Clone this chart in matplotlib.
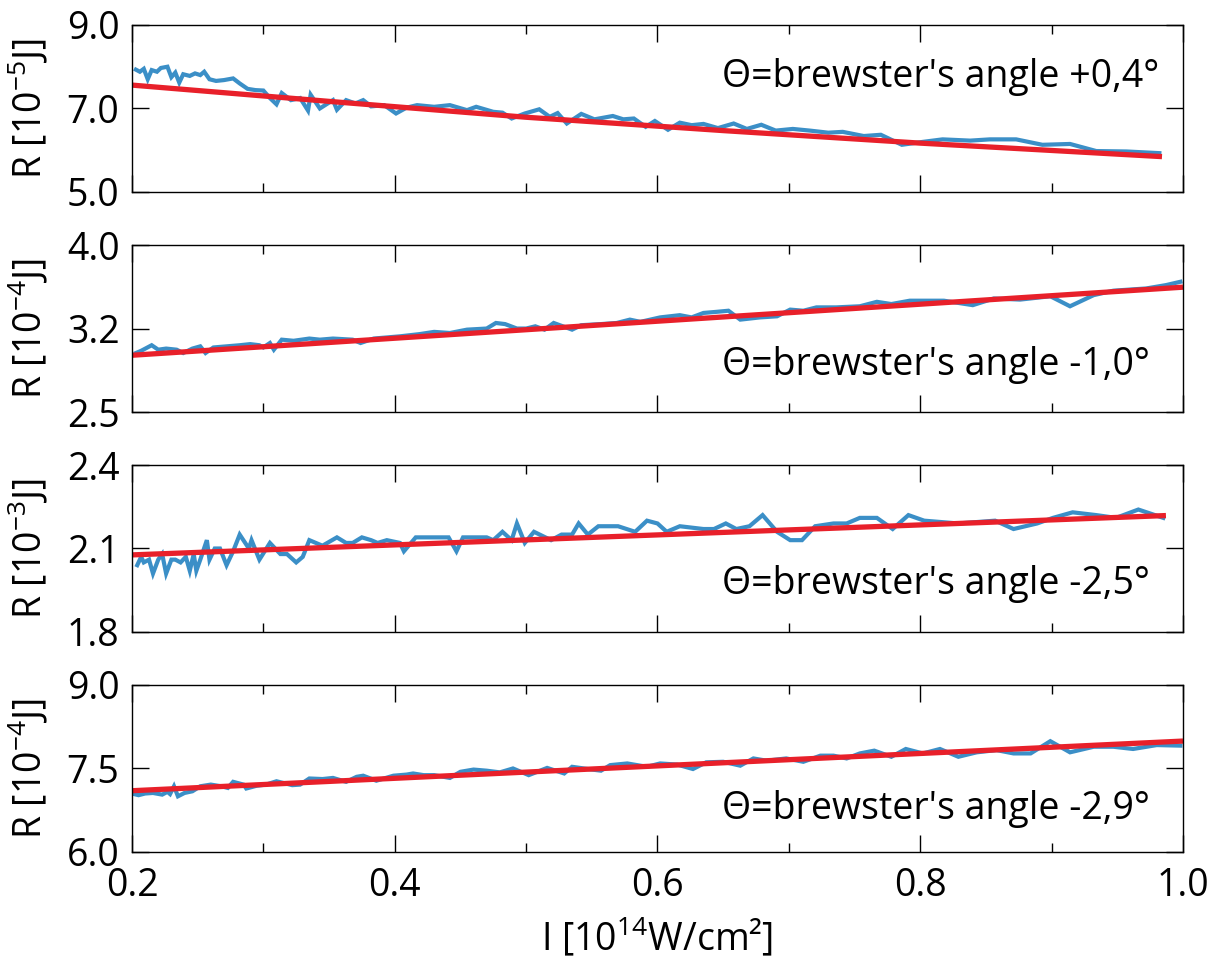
import numpy as np
import matplotlib
matplotlib.use("Agg")
import matplotlib.pyplot as plt
from matplotlib.ticker import MultipleLocator

plt.rcParams['font.family'] = ['Open Sans', 'DejaVu Sans']
plt.rcParams['mathtext.fontset'] = 'custom'
plt.rcParams['mathtext.rm'] = 'Open Sans'
plt.rcParams['mathtext.it'] = 'Open Sans'

# ---- measured reflectivity, panel 1 (x 1e-5 J)
x1 = [0.203, 0.206, 0.209, 0.212, 0.215, 0.219, 0.222, 0.227, 0.230, 0.233,
      0.236, 0.239, 0.244, 0.248, 0.252, 0.255, 0.259, 0.264, 0.270, 0.277,
      0.282, 0.288, 0.294, 0.300, 0.305, 0.310, 0.314, 0.321, 0.328, 0.334,
      0.336, 0.343, 0.353, 0.356, 0.363, 0.370, 0.376, 0.382, 0.392, 0.401,
      0.409, 0.417, 0.430, 0.442, 0.455, 0.462, 0.475, 0.482, 0.489, 0.499,
      0.510, 0.518, 0.524, 0.531, 0.542, 0.552, 0.566, 0.574, 0.582, 0.591,
      0.598, 0.608, 0.617, 0.626, 0.635, 0.646, 0.658, 0.668, 0.679, 0.690,
      0.703, 0.716, 0.730, 0.741, 0.757, 0.770, 0.786, 0.802, 0.817, 0.838,
      0.853, 0.873, 0.893, 0.914, 0.934, 0.957, 0.982]
r1 = [7.93, 7.88, 7.95, 7.70, 7.92, 7.88, 7.97, 8.00, 7.75, 7.86,
      7.62, 7.82, 7.78, 7.84, 7.80, 7.88, 7.70, 7.66, 7.68, 7.72,
      7.60, 7.47, 7.44, 7.43, 7.25, 7.10, 7.37, 7.20, 7.25, 6.95,
      7.33, 7.00, 7.20, 6.97, 7.20, 7.12, 7.20, 7.05, 7.08, 6.88,
      7.02, 7.08, 7.04, 7.08, 6.96, 7.04, 6.92, 6.90, 6.76, 6.88,
      6.98, 6.80, 6.89, 6.64, 6.87, 6.74, 6.82, 6.74, 6.76, 6.56,
      6.70, 6.49, 6.66, 6.60, 6.63, 6.53, 6.64, 6.51, 6.61, 6.47,
      6.51, 6.47, 6.42, 6.44, 6.34, 6.37, 6.13, 6.20, 6.26, 6.23,
      6.26, 6.26, 6.13, 6.15, 5.98, 5.97, 5.93]
fit1_x = [0.2, 0.35, 0.5, 0.65, 0.8, 0.982]
fit1_y = [7.56, 7.17, 6.79, 6.47, 6.17, 5.85]

# ---- panel 2 (x 1e-4 J)
x2 = [0.203, 0.207, 0.215, 0.220, 0.226, 0.234, 0.239, 0.246, 0.252, 0.256,
      0.262, 0.272, 0.282, 0.290, 0.297, 0.300, 0.305, 0.308, 0.314, 0.323,
      0.335, 0.343, 0.353, 0.368, 0.374, 0.384, 0.394, 0.404, 0.419, 0.430,
      0.442, 0.455, 0.470, 0.477, 0.484, 0.493, 0.500, 0.507, 0.514, 0.521,
      0.535, 0.542, 0.557, 0.569, 0.579, 0.587, 0.602, 0.617, 0.626, 0.635,
      0.645, 0.654, 0.663, 0.678, 0.691, 0.701, 0.711, 0.721, 0.736, 0.754,
      0.767, 0.778, 0.792, 0.805, 0.818, 0.840, 0.856, 0.876, 0.899, 0.914,
      0.932, 0.947, 0.972, 0.987, 0.998]
r2 = [3.03, 3.05, 3.10, 3.06, 3.07, 3.06, 3.03, 3.07, 3.09, 3.03,
      3.08, 3.09, 3.10, 3.11, 3.10, 3.08, 3.12, 3.06, 3.15, 3.14,
      3.16, 3.15, 3.16, 3.15, 3.12, 3.16, 3.17, 3.18, 3.20, 3.22,
      3.21, 3.24, 3.25, 3.30, 3.29, 3.25, 3.25, 3.27, 3.24, 3.30,
      3.24, 3.28, 3.29, 3.30, 3.33, 3.31, 3.35, 3.37, 3.35, 3.39,
      3.40, 3.41, 3.33, 3.35, 3.36, 3.42, 3.41, 3.44, 3.44, 3.45,
      3.49, 3.47, 3.50, 3.50, 3.50, 3.46, 3.52, 3.51, 3.54, 3.45,
      3.55, 3.59, 3.61, 3.64, 3.67]
fit2_x = [0.2, 0.998]
fit2_y = [3.01, 3.62]

# ---- panel 3 (x 1e-3 J)
x3 = [0.204, 0.207, 0.209, 0.213, 0.216, 0.220, 0.223, 0.226, 0.230, 0.233,
      0.237, 0.241, 0.244, 0.247, 0.249, 0.252, 0.257, 0.259, 0.263, 0.267,
      0.272, 0.277, 0.282, 0.289, 0.291, 0.297, 0.305, 0.313, 0.318, 0.325,
      0.330, 0.335, 0.345, 0.356, 0.363, 0.368, 0.375, 0.382, 0.387, 0.394,
      0.404, 0.407, 0.416, 0.428, 0.441, 0.447, 0.452, 0.465, 0.470, 0.475,
      0.482, 0.489, 0.493, 0.499, 0.506, 0.519, 0.527, 0.535, 0.540, 0.547,
      0.555, 0.570, 0.583, 0.592, 0.600, 0.607, 0.617, 0.635, 0.643, 0.652,
      0.660, 0.670, 0.680, 0.691, 0.701, 0.710, 0.720, 0.734, 0.744, 0.754,
      0.767, 0.779, 0.791, 0.803, 0.829, 0.857, 0.871, 0.889, 0.901, 0.916,
      0.934, 0.949, 0.966, 0.985]
r3 = [2.04, 2.07, 2.05, 2.06, 2.01, 2.06, 2.08, 2.01, 2.06, 2.06,
      2.05, 2.07, 2.02, 2.08, 2.02, 2.06, 2.13, 2.06, 2.10, 2.10,
      2.04, 2.09, 2.15, 2.10, 2.13, 2.06, 2.12, 2.08, 2.08, 2.05,
      2.07, 2.13, 2.11, 2.14, 2.12, 2.12, 2.14, 2.13, 2.12, 2.13,
      2.12, 2.09, 2.14, 2.14, 2.14, 2.09, 2.14, 2.14, 2.14, 2.13,
      2.16, 2.13, 2.19, 2.12, 2.16, 2.13, 2.15, 2.15, 2.19, 2.15,
      2.18, 2.18, 2.16, 2.20, 2.19, 2.16, 2.18, 2.17, 2.17, 2.19,
      2.17, 2.18, 2.22, 2.16, 2.13, 2.13, 2.18, 2.19, 2.19, 2.21,
      2.21, 2.17, 2.22, 2.20, 2.19, 2.20, 2.17, 2.19, 2.21, 2.23,
      2.22, 2.21, 2.24, 2.21]
fit3_x = [0.2, 0.985]
fit3_y = [2.077, 2.218]

# ---- panel 4 (x 1e-4 J)
x4 = [0.200, 0.205, 0.210, 0.216, 0.223, 0.227, 0.229, 0.232, 0.235, 0.240,
      0.246, 0.252, 0.260, 0.268, 0.273, 0.277, 0.285, 0.287, 0.295, 0.302,
      0.310, 0.322, 0.328, 0.335, 0.345, 0.353, 0.363, 0.371, 0.376, 0.386,
      0.399, 0.409, 0.414, 0.422, 0.430, 0.442, 0.450, 0.460, 0.470, 0.480,
      0.490, 0.502, 0.516, 0.529, 0.535, 0.547, 0.557, 0.564, 0.577, 0.592,
      0.602, 0.615, 0.627, 0.637, 0.650, 0.663, 0.673, 0.683, 0.698, 0.711,
      0.724, 0.734, 0.744, 0.754, 0.765, 0.778, 0.789, 0.802, 0.815, 0.829,
      0.843, 0.858, 0.871, 0.884, 0.899, 0.914, 0.932, 0.947, 0.962, 0.980,
      0.998]
r4 = [7.05, 7.02, 7.05, 7.06, 7.03, 7.08, 7.04, 7.18, 7.00, 7.06,
      7.09, 7.18, 7.21, 7.18, 7.15, 7.26, 7.21, 7.14, 7.19, 7.21,
      7.27, 7.20, 7.21, 7.32, 7.31, 7.33, 7.26, 7.35, 7.37, 7.28,
      7.37, 7.39, 7.41, 7.38, 7.38, 7.33, 7.44, 7.48, 7.46, 7.43,
      7.50, 7.38, 7.51, 7.41, 7.53, 7.49, 7.46, 7.56, 7.59, 7.53,
      7.59, 7.57, 7.49, 7.61, 7.62, 7.55, 7.68, 7.64, 7.68, 7.62,
      7.73, 7.73, 7.68, 7.77, 7.82, 7.71, 7.85, 7.77, 7.85, 7.71,
      7.79, 7.83, 7.77, 7.77, 7.99, 7.79, 7.89, 7.89, 7.85, 7.92,
      7.91]
fit4_x = [0.2, 0.998]
fit4_y = [7.10, 7.99]

ylabels = ["R [10$^{-5}$J]", "R [10$^{-4}$J]", "R [10$^{-3}$J]", "R [10$^{-4}$J]"]
angles = ["Θ=brewster's angle +0,4°", "Θ=brewster's angle -1,0°",
          "Θ=brewster's angle -2,5°", "Θ=brewster's angle -2,9°"]
ylims = [(5.0, 9.0), (2.5, 4.0), (1.8, 2.4), (6.0, 9.0)]
yticks = [[5.0, 7.0, 9.0], [2.5, 3.25, 4.0], [1.8, 2.1, 2.4], [6.0, 7.5, 9.0]]
yticklabels = [["5.0", "7.0", "9.0"], ["2.5", "3.2", "4.0"],
               ["1.8", "2.1", "2.4"], ["6.0", "7.5", "9.0"]]

data = [(x1, r1, fit1_x, fit1_y), (x2, r2, fit2_x, fit2_y),
        (x3, r3, fit3_x, fit3_y), (x4, r4, fit4_x, fit4_y)]
text_y = [0.63, 0.22, 0.23, 0.20]

BLUE = '#3b8fc7'
RED = '#e8202a'
FS = 27

fig = plt.figure(figsize=(12.23, 9.72), dpi=100)
bottoms = [0.8025, 0.5761, 0.3498, 0.1235]
for i in range(4):
    ax = fig.add_axes([0.1079, bottoms[i], 0.8594, 0.1718])
    xs, ys, fx, fy = data[i]
    ax.plot(xs, ys, color=BLUE, lw=3.0, solid_joinstyle='miter')
    ax.plot(fx, fy, color=RED, lw=3.8)
    ax.set_xlim(0.2, 1.0)
    ax.set_ylim(*ylims[i])
    ax.set_yticks(yticks[i])
    ax.set_yticklabels(yticklabels[i])
    ax.xaxis.set_major_locator(MultipleLocator(0.2))
    ax.xaxis.set_minor_locator(MultipleLocator(0.1))
    ax.tick_params(which='both', direction='in', top=True, right=True,
                   width=1.0, labelsize=FS, pad=9)
    ax.tick_params(which='major', length=12)
    ax.tick_params(which='minor', length=6.5)
    for s in ax.spines.values():
        s.set_linewidth(1.0)
    if i < 3:
        ax.set_xticklabels([])
    else:
        ax.set_xticks([0.2, 0.4, 0.6, 0.8, 1.0])
        ax.set_xticklabels(["0.2", "0.4", "0.6", "0.8", "1.0"])
        ax.tick_params(axis='x', pad=11)
        ax.set_xlabel("I [10$^{14}$W/cm²]", fontsize=FS, labelpad=8)
    ax.set_ylabel(ylabels[i], fontsize=FS)
    ax.yaxis.set_label_coords(-0.078, 0.5)
    ax.text(0.561, text_y[i], angles[i], transform=ax.transAxes,
            ha='left', va='baseline', fontsize=FS)

fig.savefig("out.png", dpi=100)
